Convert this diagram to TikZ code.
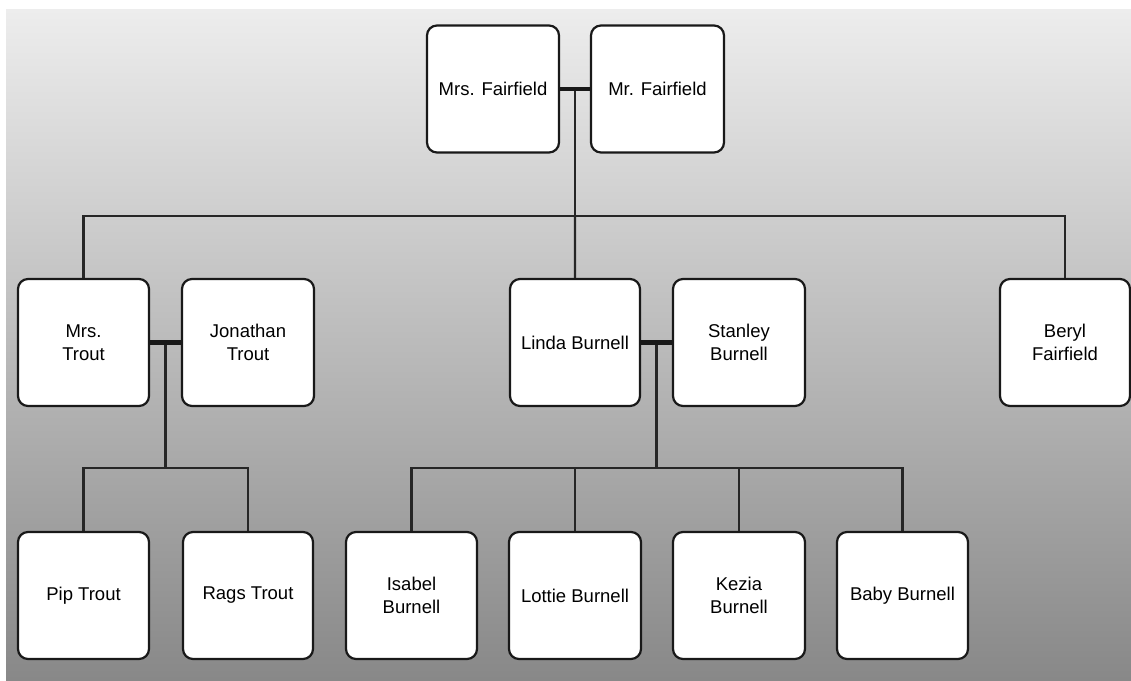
\documentclass[tikz,border=0pt]{standalone}
\usepackage{fontspec}
\setmainfont{Liberation Sans}
\usetikzlibrary{calc}
\definecolor{bgtop}{RGB}{237,237,237}
\definecolor{bgmid}{RGB}{198,198,198}
\definecolor{bgbot}{RGB}{136,136,136}
\tikzset{
  person/.style={draw=black!90, fill=white, line width=2.2pt, rounded corners=10pt,
    minimum height=127pt, align=center, inner sep=2pt,
    font=\fontsize{18.5}{23}\selectfont},
  link/.style={line width=2.3pt, draw=black!85},
  marriage/.style={line width=4.8pt, draw=black!90}
}
\begin{document}
\begin{tikzpicture}[x=1pt,y=-1pt]
\useasboundingbox (0,0) rectangle (1131,680);
\fill[white] (0,0) rectangle (1131,680);
\shade[top color=bgtop, middle color=bgmid, bottom color=bgbot] (6,9) rectangle (1131,680);

% row 1
\node[person, minimum width=132pt] (mrsF) at (493,89) {Mrs. Fairfield};
\node[person, minimum width=133pt] (mrF) at (657.5,89) {Mr. Fairfield};
% row 2
\node[person, minimum width=131pt] (mrsT) at (83.5,342.5) {Mrs.\\Trout};
\node[person, minimum width=132pt] (jon) at (248,342.5) {Jonathan\\Trout};
\node[person, minimum width=130pt] (linda) at (575,342.5) {Linda Burnell};
\node[person, minimum width=132pt] (stan) at (739,342.5) {Stanley\\Burnell};
\node[person, minimum width=130pt] (beryl) at (1065,342.5) {Beryl\\Fairfield};
% row 3
\node[person, minimum width=131pt] (pip) at (83.5,595.5) {Pip Trout};
\node[person, minimum width=130pt] (rags) at (248,595.5) {Rags Trout};
\node[person, minimum width=131pt] (isabel) at (411.5,595.5) {Isabel\\Burnell};
\node[person, minimum width=132pt] (lottie) at (575,595.5) {Lottie Burnell};
\node[person, minimum width=132pt] (kezia) at (739,595.5) {Kezia\\Burnell};
\node[person, minimum width=131pt] (baby) at (902.5,595.5) {Baby Burnell};

% coordinates
\coordinate (m1) at ($(mrsF.east)!0.5!(mrF.west)$);
\coordinate (h1) at (m1 |- 0,216);
\coordinate (m2) at ($(mrsT.east)!0.5!(jon.west)$);
\coordinate (h2) at (m2 |- 0,468);
\coordinate (m3) at ($(linda.east)!0.5!(stan.west)$);
\coordinate (h3) at (m3 |- 0,468);

% connectors
\draw[link] (m1) -- (h1);
\draw[link] (mrsT.north) |- (h1) -| (beryl.north);
\draw[link] (h1) -- (linda.north);
\draw[link] (m2) -- (h2);
\draw[link] (pip.north) |- (h2) -| (rags.north);
\draw[link] (m3) -- (h3);
\draw[link] (isabel.north) |- (h3) -| (baby.north);
\draw[link] (lottie.north) -- (lottie.north |- h3);
\draw[link] (kezia.north) -- (kezia.north |- h3);

\draw[marriage] (mrsF.east) -- (mrF.west);
\draw[marriage] (mrsT.east) -- (jon.west);
\draw[marriage] (linda.east) -- (stan.west);
\end{tikzpicture}
\end{document}
